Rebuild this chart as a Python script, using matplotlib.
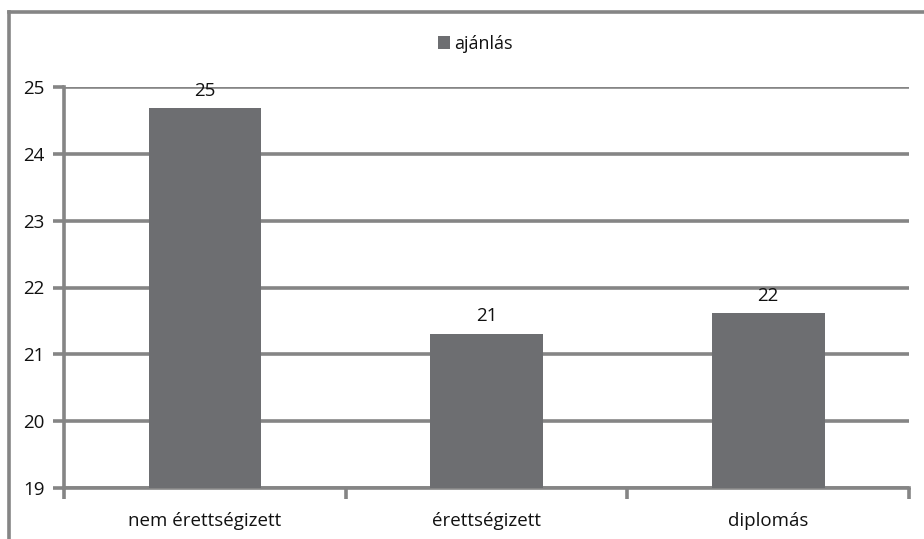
import matplotlib.pyplot as plt
from matplotlib.lines import Line2D
import numpy as np

# ── Data ──────────────────────────────────────────────────────────────────────
categories = ["nem érettségizett", "érettségizett", "diplomás"]
values = [24.68, 21.31, 21.62]
labels = ["25", "21", "22"]
series_name = "ajánlás"

BAR = "#6d6e71"
GRID = "#858585"
TEXT = "#111111"

plt.rcParams['font.family'] = ['Open Sans', 'DejaVu Sans']

fig = plt.figure(figsize=(9.24, 5.39), dpi=100)
ax = fig.add_axes([64 / 924, 1 - 488 / 539, (909 - 64) / 924, (488 - 87) / 539])

x = np.arange(len(categories))
bars = ax.bar(x, values, width=0.4, color=BAR, zorder=3, label=series_name)

ax.set_ylim(19, 25)
ax.set_xlim(-0.5, len(categories) - 0.5)
ax.set_yticks(range(19, 26))
ax.yaxis.grid(True, color=GRID, linewidth=2.6, zorder=0)

# category labels between boundary ticks
ax.set_xticks(np.arange(-0.5, len(categories), 1.0))
ax.set_xticklabels([])
ax.set_xticks(x, minor=True)
ax.set_xticklabels(categories, minor=True)
ax.tick_params(axis='x', which='minor', length=0, labelsize=13.5, pad=17, colors=TEXT)
ax.tick_params(axis='x', which='major', length=8, width=2.6, color=GRID)
ax.tick_params(axis='y', length=8, width=2.6, color=GRID, labelsize=13.5, pad=6,
               labelcolor=TEXT)

for s in ['top', 'right']:
    ax.spines[s].set_visible(False)
for s in ['left', 'bottom']:
    ax.spines[s].set_color(GRID)
    ax.spines[s].set_linewidth(2.6)

for b, lab in zip(bars, labels):
    ax.annotate(lab, (b.get_x() + b.get_width() / 2, b.get_height()),
                xytext=(0, 6), textcoords='offset points', ha='center', va='bottom',
                fontsize=13.5, color=TEXT)

ax.legend(loc='center', bbox_to_anchor=(475 / 924, 1 - 44 / 539),
          bbox_transform=fig.transFigure, frameon=False, fontsize=13,
          handlelength=0.7, handleheight=0.7, handletextpad=0.2, labelcolor=TEXT)

# outer frame (left, top, right)
fig.add_artist(Line2D([9 / 924, 9 / 924], [0, 1 - 12 / 539], color=GRID, linewidth=2.6))
fig.add_artist(Line2D([9 / 924, 1], [1 - 12 / 539, 1 - 12 / 539], color=GRID, linewidth=2.6))

fig.savefig("out.png", dpi=100)
